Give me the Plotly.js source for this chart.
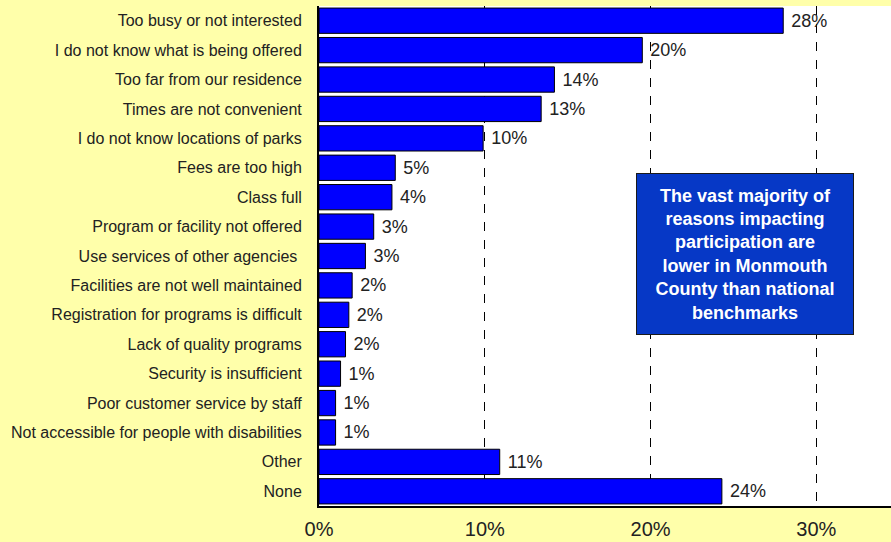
<!DOCTYPE html>
<html><head><meta charset="utf-8">
<script src="https://cdn.plot.ly/plotly-3.0.1.min.js"></script>
<style>html,body{margin:0;padding:0;background:#FFFFAA;}</style>
</head><body>
<div id="chart" style="width:891px;height:542px;"></div>
<script>
var categories = [
  "Too busy or not interested",
  "I do not know what is being offered",
  "Too far from our residence",
  "Times are not convenient",
  "I do not know locations of parks",
  "Fees are too high",
  "Class full",
  "Program or facility not offered",
  "Use services of other agencies ",
  "Facilities are not well maintained",
  "Registration for programs is difficult",
  "Lack of quality programs",
  "Security is insufficient",
  "Poor customer service by staff",
  "Not accessible for people with disabilities",
  "Other",
  "None"
];
var values = [28.0, 19.5, 14.2, 13.4, 9.9, 4.6, 4.4, 3.3, 2.8, 2.0, 1.8, 1.6, 1.3, 1.0, 1.0, 10.9, 24.3];
var valueLabels = ["28%","20%","14%","13%","10%","5%","4%","3%","3%","2%","2%","2%","1%","1%","1%","11%","24%"];
var tickVals = [0, 10, 20, 30];
var tickText = ["0%", "10%", "20%", "30%"];
var noteText = "The vast majority of<br>reasons impacting<br>participation are<br>lower in Monmouth<br>County than national<br>benchmarks";

var trace = {
  type: "bar",
  orientation: "h",
  y: categories,
  x: values,
  text: valueLabels.map(function(s){ return "\u00a0" + s; }),
  textposition: "outside",
  cliponaxis: false,
  textfont: {family: "Arial, Liberation Sans, sans-serif", size: 18, color: "#222222"},
  marker: {color: "#0000FF", line: {color: "#000000", width: 1}},
  hoverinfo: "none"
};

var layout = {
  width: 891, height: 542,
  margin: {l: 319, r: 0, t: 6, b: 36},
  paper_bgcolor: "#FFFFAA",
  plot_bgcolor: "#FFFFFF",
  bargap: 0.14,
  showlegend: false,
  font: {family: "Arial, Liberation Sans, sans-serif", color: "#222222"},
  xaxis: {
    range: [0, 34.5],
    tickvals: tickVals,
    ticktext: tickText,
    tickfont: {size: 20, color: "#222222"},
    ticklabelstandoff: 4,
    showgrid: true,
    gridcolor: "#000000",
    gridwidth: 1,
    griddash: "dash",
    zeroline: false,
    showline: true,
    linecolor: "#000000",
    linewidth: 2,
    ticks: "",
    ticklen: 0
  },
  yaxis: {
    autorange: "reversed",
    tickfont: {size: 16, color: "#222222"},
    showline: true,
    linecolor: "#000000",
    linewidth: 2,
    ticks: "",
    ticklabelstandoff: 12,
    showgrid: false
  },
  annotations: [{
    xref: "x", yref: "paper",
    x: 25.7, y: 0.505,
    xanchor: "center", yanchor: "middle",
    text: noteText,
    showarrow: false,
    align: "center",
    font: {family: "Arial, Liberation Sans, sans-serif", size: 18, color: "#FFFFFF", weight: "bold"},
    bgcolor: "#0638C6",
    bordercolor: "#1a1a1a",
    borderwidth: 1,
    borderpad: 4,
    width: 208,
    height: 152
  }]
};

Plotly.newPlot("chart", [trace], layout, {staticPlot: true, displayModeBar: false});
</script>
</body></html>
